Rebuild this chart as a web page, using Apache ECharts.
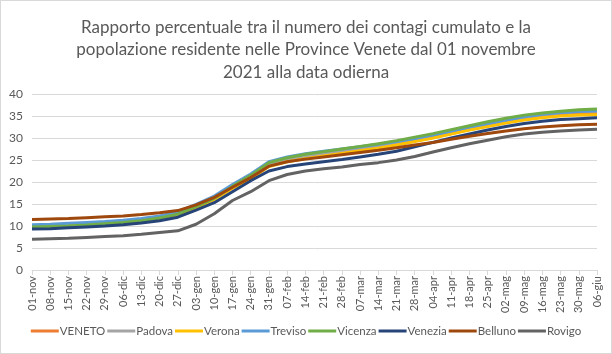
<!DOCTYPE html>
<html>
<head>
<meta charset="utf-8">
<script src="https://cdn.jsdelivr.net/npm/echarts@6/dist/echarts.min.js"></script>
<style>
    html, body { margin: 0; padding: 0; background: #fff; }
    #chart { width: 610px; height: 352px; border: 1px solid #d9d9d9; }
</style>
</head>
<body>
<div id="chart"></div>
<script>
// etichette settimanali asse x
var weeks = ['01-nov','08-nov','15-nov','22-nov','29-nov','06-dic','13-dic','20-dic','27-dic',
    '03-gen','10-gen','17-gen','24-gen','31-gen','07-feb','14-feb','21-feb','28-feb',
    '07-mar','14-mar','21-mar','28-mar','04-apr','11-apr','18-apr','25-apr',
    '02-mag','09-mag','16-mag','23-mag','30-mag','06-giu'];

// valori (%)
var veneto   = [9.9,10.0,10.2,10.4,10.6,10.9,11.3,11.9,12.8,14.3,16.1,18.7,21.0,23.7,24.8,25.5,26.1,26.6,27.2,27.8,28.5,29.3,30.1,31.0,31.9,32.7,33.5,34.2,34.8,35.2,35.5,35.6];
var padova   = [10.0,10.1,10.3,10.5,10.7,11.0,11.4,12.0,12.9,14.5,16.4,19.0,21.2,24.0,25.2,25.9,26.5,27.1,27.7,28.3,29.0,29.8,30.6,31.5,32.4,33.2,34.0,34.7,35.3,35.7,36.0,36.1];
var verona   = [9.7,9.8,10.0,10.2,10.4,10.7,11.1,11.7,12.6,14.1,16.0,18.6,20.8,23.5,24.6,25.3,25.9,26.5,27.1,27.7,28.4,29.2,30.0,30.9,31.8,32.6,33.4,34.1,34.6,35.0,35.2,35.3];
var treviso  = [10.3,10.4,10.6,10.8,11.0,11.3,11.7,12.3,13.2,14.9,16.8,19.4,21.8,24.6,25.7,26.4,27.0,27.5,28.0,28.6,29.2,29.9,30.7,31.6,32.5,33.3,34.1,34.8,35.4,35.8,36.0,36.2];
var vicenza  = [9.8,9.9,10.0,10.2,10.5,10.8,11.2,11.8,12.7,14.4,16.3,19.0,21.5,24.4,25.5,26.3,26.9,27.5,28.1,28.7,29.4,30.2,31.0,31.9,32.8,33.7,34.5,35.2,35.7,36.1,36.4,36.6];
var venezia  = [9.3,9.4,9.6,9.8,10.0,10.3,10.7,11.2,12.0,13.6,15.3,17.8,20.3,22.5,23.5,24.1,24.6,25.1,25.7,26.3,27.0,28.0,29.0,30.0,30.9,31.8,32.6,33.3,33.8,34.2,34.4,34.6];
var belluno  = [11.5,11.6,11.7,11.9,12.1,12.3,12.6,13.0,13.5,14.8,16.5,18.8,21.0,23.6,24.6,25.2,25.7,26.2,26.7,27.2,27.8,28.4,29.0,29.7,30.4,31.0,31.6,32.1,32.5,32.8,33.0,33.1];
var rovigo   = [7.0,7.1,7.2,7.4,7.6,7.8,8.1,8.5,8.9,10.4,12.8,15.8,17.8,20.3,21.7,22.5,23.0,23.4,24.0,24.4,25.0,25.8,26.8,27.8,28.7,29.5,30.3,30.9,31.3,31.6,31.8,32.0];

var names  = ['VENETO','Padova','Verona','Treviso','Vicenza','Venezia','Belluno','Rovigo'];
var values = [veneto, padova, verona, treviso, vicenza, venezia, belluno, rovigo];
var colors = ['#ed7d31','#a5a5a5','#ffc000','#5b9bd5','#70ad47','#264478','#9e480e','#636363'];

var myChart = echarts.init(document.getElementById('chart'));

var series = names.map(function (name, i) {
    return {
        name: name,
        type: 'line',
        data: values[i],
        symbol: 'none',
        lineStyle: { width: 3, color: colors[i] },
        itemStyle: { color: colors[i] }
    };
});

var option = {
    animation: false,
    textStyle: { fontFamily: 'Lato' },
    title: {
        text: 'Rapporto percentuale tra il numero dei contagi cumulato e la\npopolazione residente nelle Province Venete dal 01 novembre\n2021 alla data odierna',
        left: 'center',
        top: 10,
        textStyle: { fontSize: 17, fontWeight: 'normal', color: '#595959', lineHeight: 22.5, fontFamily: 'Lato' }
    },
    grid: { left: 31, right: 14, top: 93, bottom: 83 },
    legend: {
        bottom: 11,
        left: 'center',
        itemWidth: 28,
        itemHeight: 3,
        itemGap: 2,
        icon: 'rect',
        textStyle: { fontSize: 11.5, color: '#595959', padding: [0, 0, 0, -4] },
        data: names
    },
    xAxis: {
        type: 'category',
        data: weeks,
        boundaryGap: false,
        axisLine: { lineStyle: { color: '#d9d9d9' } },
        axisTick: { show: true, lineStyle: { color: '#d9d9d9' }, length: 5 },
        axisLabel: { rotate: 90, fontSize: 11, color: '#595959', interval: 0, margin: 6 }
    },
    yAxis: {
        type: 'value',
        min: 0,
        max: 40,
        interval: 5,
        axisLine: { show: false },
        axisTick: { show: false },
        axisLabel: { fontSize: 12, color: '#595959', margin: 9 },
        splitLine: { lineStyle: { color: '#d9d9d9' } }
    },
    series: series
};

myChart.setOption(option);
</script>
</body>
</html>
